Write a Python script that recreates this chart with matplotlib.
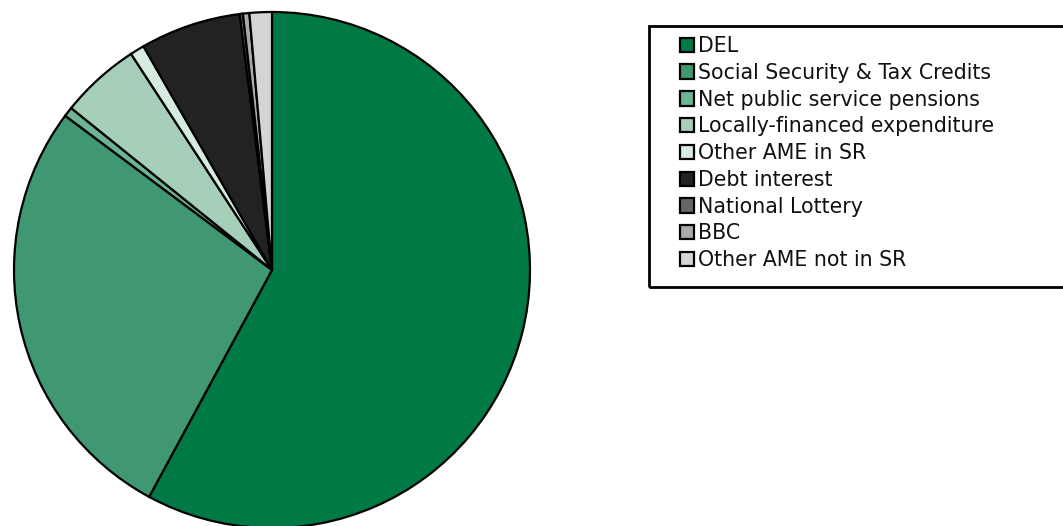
import matplotlib.pyplot as plt
from matplotlib.patches import Rectangle

labels = ['DEL', 'Social Security & Tax Credits', 'Net public service pensions',
          'Locally-financed expenditure', 'Other AME in SR', 'Debt interest',
          'National Lottery', 'BBC', 'Other AME not in SR']
shares = [57.9, 27.3, 0.6, 5.0, 0.9, 6.3, 0.2, 0.4, 1.4]
colors = ['#007a45', '#3f9872', '#6cb594', '#a5cfb9', '#d6ebe0',
          '#222222', '#666666', '#aaaaaa', '#d4d4d4']

W, H = 1063, 526
fig = plt.figure(figsize=(W / 100, H / 100), dpi=100)

# pie centre ~ (272, 270) px, radius ~258 px
cx, cy, r = 272, 270, 258
ax = fig.add_axes([(cx - r) / W, (H - cy - r) / H, 2 * r / W, 2 * r / H])
wedges, _ = ax.pie(shares, colors=colors, startangle=90, counterclock=False,
                   wedgeprops=dict(edgecolor='black', linewidth=1.6))
ax.set_xlim(-1, 1)
ax.set_ylim(-1, 1)
ax.set_aspect('equal')
ax.axis('off')

# legend box runs off the right edge in the original
fig.patches.append(Rectangle((649 / W, 1 - 287 / H), 430 / W, (287 - 26) / H,
                             transform=fig.transFigure, fill=False,
                             edgecolor='black', linewidth=2))

leg = fig.legend(wedges, labels, loc='upper left',
                 bbox_to_anchor=(680 / W, 1 - 36 / H), frameon=False,
                 fontsize=14.8, borderpad=0, borderaxespad=0,
                 handlelength=0.7, handleheight=0.7, handletextpad=0.2,
                 labelspacing=0.33)
for t in leg.get_texts():
    t.set_color('#111111')

fig.savefig('out.png', dpi=100)
